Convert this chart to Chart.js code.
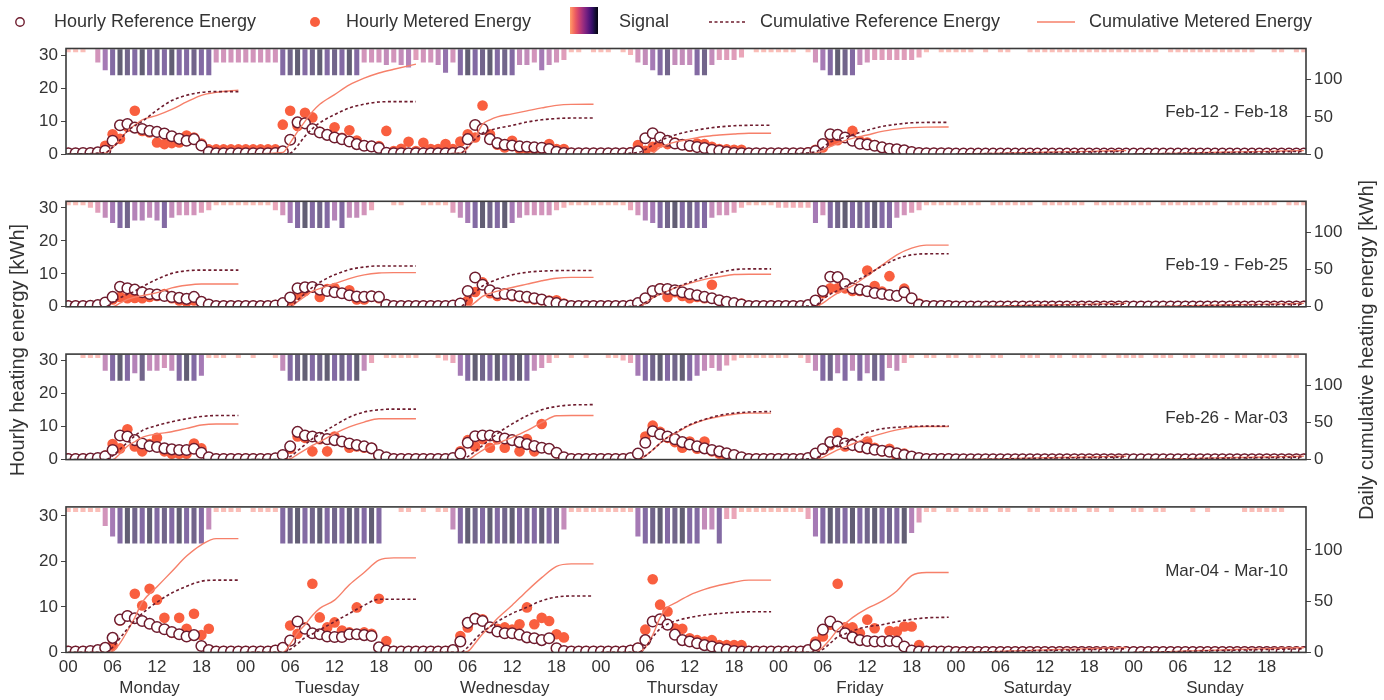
<!DOCTYPE html>
<html lang="en">
<head>
<meta charset="UTF-8">
<title>Hourly and daily cumulative heating energy</title>
<script src="https://cdn.jsdelivr.net/npm/chart.js"></script>
<style>
  body { margin: 0; background: #fff; }
  #wrap { position: relative; width: 1384px; height: 700px; }
  #wrap canvas { position: absolute; left: 0; top: 0; }
</style>
</head>
<body>
<div id="wrap">
  <canvas id="panel0" width="1384" height="700"></canvas>
  <canvas id="panel1" width="1384" height="700"></canvas>
  <canvas id="panel2" width="1384" height="700"></canvas>
  <canvas id="panel3" width="1384" height="700"></canvas>
</div>
<script>
// ---- labels ----
const DAY_NAMES = ['Monday', 'Tuesday', 'Wednesday', 'Thursday', 'Friday', 'Saturday', 'Sunday'];
const HOUR_TICKS = ['00', '06', '12', '18'];
const LEFT_TICKS = [0, 10, 20, 30];
const RIGHT_TICKS = [0, 50, 100];
const PANEL_LABELS = ['Feb-12 - Feb-18', 'Feb-19 - Feb-25', 'Feb-26 - Mar-03', 'Mar-04 - Mar-10'];
const LEGEND_LABELS = ['Hourly Reference Energy', 'Hourly Metered Energy', 'Signal',
                       'Cumulative Reference Energy', 'Cumulative Metered Energy'];

// hours of the day at which the daily cumulative curves were read
const CUM_HOURS = [0, 5, 6, 7, 8, 9, 10, 12, 14, 16, 18, 20, 23];

// ---- weekend rows (same flat pattern every week) ----
const WEEKEND_REF = [0.1,0.1,0.1,0.1,0.1,0.1,0.1,0.1,0.1,0.1,0.1,0.1,0.1,0.1,0.1,0.1,0.1,0.1,0.1,0.1,0.1,0.1,0.1,0.1];
const WEEKEND_MET = [0.2,0.2,0.2,0.2,0.2,0.2,0.2,0.2,0.2,0.2,0.2,0.2,0.2,0.2,0.2,0.2,0.2,0.2,0.2,0.2,0.2,0.2,0.2,0.2];
const WEEKEND_CUM_REF = [0, 0.6, 0.8, 1.0, 1.2, 1.4, 1.6, 1.9, 2.2, 2.5, 2.8, 3.1, 3.5];
const WEEKEND_CUM_MET = [0, 0.8, 1.0, 1.3, 1.5, 1.8, 2.0, 2.4, 2.8, 3.2, 3.6, 4.0, 4.6];

// ---- week 1: Feb-12 - Feb-18 ----
const REF_W1 = [
  [0.2,0.2,0.3,0.3,0.5,1.0,4.0,8.7,9.1,8.0,7.6,7.0,6.7,6.2,5.4,4.6,4.0,4.5,2.6,0.6,0.2,0.2,0.2,0.2],
  [0.2,0.2,0.2,0.2,0.3,0.8,4.3,9.6,9.3,7.6,6.5,5.8,5.0,4.5,3.8,3.0,2.5,2.3,1.8,0.4,0.2,0.2,0.2,0.2],
  [0.2,0.2,0.2,0.2,0.3,0.6,4.5,8.8,7.6,4.5,3.3,2.8,2.6,2.3,2.2,2.0,1.9,1.5,0.7,0.3,0.2,0.2,0.2,0.2],
  [0.2,0.2,0.2,0.2,0.3,0.8,4.8,6.3,5.0,4.0,3.2,2.8,2.5,2.1,1.8,1.3,1.0,0.6,0.3,0.2,0.2,0.2,0.2,0.2],
  [0.2,0.2,0.2,0.2,0.3,0.9,3.0,6.0,5.8,5.0,4.0,3.1,2.9,2.5,2.0,1.6,1.4,1.1,0.6,0.3,0.2,0.2,0.2,0.2],
  WEEKEND_REF, WEEKEND_REF
];
const MET_W1 = [
  [0.3,0.3,0.3,0.4,0.5,2.5,6.0,4.6,8.3,13.1,7.0,6.5,3.5,3.0,3.3,3.5,5.6,5.0,3.2,1.4,1.4,1.4,1.4,1.4],
  [1.4,1.4,1.4,1.4,1.4,8.9,13.1,8.5,12.5,11.1,6.7,5.8,8.1,4.9,7.2,4.1,2.6,2.4,2.4,7.0,0.9,1.6,3.7,0.9],
  [3.4,1.5,1.5,3.0,1.5,3.8,6.0,5.0,14.7,6.0,2.8,2.0,4.0,1.5,1.5,1.5,1.5,3.0,1.5,1.5,0.3,0.3,0.3,0.3],
  [0.3,0.3,0.3,0.3,0.5,2.7,1.0,2.2,3.5,3.0,3.5,2.8,2.2,3.2,3.0,2.2,1.5,1.4,1.3,1.3,0.3,0.3,0.3,0.3],
  [0.3,0.3,0.3,0.3,0.5,1.3,2.0,3.9,4.2,5.0,7.0,3.9,3.5,2.7,2.1,1.6,1.3,1.1,0.7,0.4,0.3,0.3,0.3,0.3],
  WEEKEND_MET, WEEKEND_MET
];
const CUM_REF_W1 = [
  [0, 2, 9, 19, 31, 38, 44, 59, 72, 79, 83, 84, 84],
  [0, 0, 1, 11, 24, 34, 42, 53, 62, 67, 70, 70.5, 70.5],
  [0, 1, 10, 20, 28, 32, 34.5, 38.5, 43, 46, 47.7, 48.4, 48.5],
  [0, 2, 6, 12, 18, 22, 25.5, 30.5, 34, 36.5, 38, 38.6, 38.6],
  [0, 3, 9, 16, 19.5, 23, 26, 32, 37, 40, 42, 42.5, 42.5],
  WEEKEND_CUM_REF, WEEKEND_CUM_REF
];
const CUM_MET_W1 = [
  [0, 1, 9, 20, 31, 39, 46, 52, 60, 70, 79, 83, 86],
  [0, 2, 15, 30, 44, 57, 67, 80, 93, 102, 109, 114, 121],
  [0, 1, 8, 22, 40, 46, 50, 54, 58, 62, 65.5, 66.8, 67],
  [0, 0, 0, 1, 9, 13, 16, 20, 23.5, 25.5, 27, 28, 28],
  [0, 1, 5, 10, 14, 18, 21, 25.5, 30.5, 33.5, 35.5, 36.2, 36.3],
  WEEKEND_CUM_MET, WEEKEND_CUM_MET
];
const SIG_W1 = [
  [1,1,1,0,5,8,10,12,11,10,12,10,11,10,12,10,10,11,10,10,5,5,5,5],
  [5,5,5,5,5,10,11,12,10,11,12,10,11,10,12,10,5,5,5,6,5,6,7,4],
  [5,5,6,9,5,10,12,10,11,12,10,11,10,6,6,5,8,6,5,4,1,1,0,1],
  [1,1,0,1,2,5,6,8,10,11,6,6,6,10,11,6,4,4,4,3,0,1,1,1],
  [1,1,1,0,1,5,8,10,12,11,10,6,5,4,4,4,4,4,4,3,1,0,1,1],
  [1,1,1,0,1,0,1,1,0,0,1,1,1,1,1,1,1,1,1,1,1,1,1,1],
  [1,1,1,1,0,1,1,1,1,1,1,1,1,1,1,1,1,0,0,1,1,0,1,1]
];

// ---- week 2: Feb-19 - Feb-25 ----
const REF_W2 = [
  [0.2,0.2,0.2,0.3,0.5,1.3,3.0,6.1,5.6,5.2,4.4,3.9,3.7,3.3,3.0,2.7,2.4,3.0,1.5,0.7,0.2,0.2,0.2,0.2],
  [0.2,0.2,0.2,0.2,0.4,1.1,2.8,5.6,5.9,6.0,5.2,4.8,4.4,4.1,3.5,3.1,3.0,3.2,3.0,0.6,0.2,0.2,0.2,0.2],
  [0.2,0.2,0.2,0.2,0.4,1.0,4.8,8.9,6.7,5.0,4.1,3.9,3.6,3.2,3.0,2.6,2.2,1.5,1.1,0.6,0.2,0.2,0.2,0.2],
  [0.2,0.2,0.2,0.2,0.4,1.1,2.6,4.8,5.4,5.4,5.0,4.4,3.9,3.5,3.0,2.6,2.0,1.5,1.1,0.7,0.2,0.2,0.2,0.2],
  [0.2,0.2,0.2,0.2,0.5,1.9,4.8,9.1,9.0,6.9,5.6,5.2,4.7,4.2,3.9,3.6,3.3,4.4,2.6,0.6,0.2,0.2,0.2,0.2],
  WEEKEND_REF, WEEKEND_REF
];
const MET_W2 = [
  [0.3,0.3,0.3,0.3,0.5,1.0,2.2,3.0,2.6,2.7,2.6,3.0,3.3,3.9,2.6,1.9,1.5,1.9,1.3,0.6,0.3,0.3,0.3,0.3],
  [0.3,0.3,0.3,0.3,0.5,0.8,1.9,3.7,4.8,5.9,3.0,5.4,5.7,4.2,5.0,2.2,2.2,3.3,2.6,0.7,0.3,0.3,0.3,0.3],
  [0.3,0.3,0.3,0.3,0.5,1.1,1.9,4.5,7.4,4.1,3.3,3.7,3.2,3.0,2.6,2.2,2.0,1.9,2.0,1.0,0.3,0.3,0.3,0.3],
  [0.3,0.3,0.3,0.3,0.5,1.0,2.4,4.4,5.6,3.0,4.4,3.3,2.6,3.0,2.6,6.7,1.9,1.5,1.0,1.0,0.3,0.3,0.3,0.3],
  [0.3,0.3,0.3,0.3,0.5,1.1,4.1,5.6,5.6,5.6,4.8,4.8,11.0,6.3,4.6,9.3,3.3,5.5,2.5,1.0,0.3,0.3,0.3,0.3],
  WEEKEND_MET, WEEKEND_MET
];
const CUM_REF_W2 = [
  [0, 0, 6, 12, 17, 21, 27, 37, 45, 48.5, 49.4, 49.4, 49.4],
  [0, 0, 0, 9, 18, 26, 33, 43, 50, 53.5, 55, 55, 55],
  [0, 0, 10, 19, 28, 33, 37, 43, 46.5, 48, 48.7, 48.8, 48.8],
  [0, 1, 6, 12, 17, 21, 25.5, 33, 40, 46, 50, 51, 51],
  [0, 2, 10, 17, 22, 27, 32.5, 43, 55, 64.5, 70, 71.3, 71.5],
  WEEKEND_CUM_REF, WEEKEND_CUM_REF
];
const CUM_MET_W2 = [
  [0, 0, 0, 5, 10, 13, 15, 19, 25.5, 29, 30.7, 30.7, 30.7],
  [0, 0, 0, 7, 14, 21, 24.5, 31, 38, 43, 45.5, 46, 46],
  [0, 0, 0, 6, 14, 18, 21, 26, 30.5, 35, 38.5, 39.6, 39.6],
  [0, 0, 5, 12, 17, 21, 25.5, 31.5, 37, 40.5, 43.5, 43.8, 43.8],
  [0, 0, 5, 12, 18.5, 23.5, 28.5, 42, 56, 70, 79, 83, 83],
  WEEKEND_CUM_MET, WEEKEND_CUM_MET
];
const SIG_W2 = [
  [1,1,1,2,4,6,8,10,11,7,7,6,7,10,6,5,5,5,4,3,1,1,1,1],
  [1,1,1,1,3,5,8,10,12,10,11,10,7,10,6,6,5,3,0,0,1,1,0,0],
  [1,1,1,1,4,6,8,10,12,11,10,12,8,6,5,5,5,5,3,2,1,1,1,1],
  [1,1,1,1,3,5,7,8,10,11,12,10,11,10,10,6,5,5,4,2,1,1,1,1],
  [2,2,2,2,2,8,5,10,11,12,10,11,10,12,10,10,6,5,4,3,1,1,1,1],
  [1,1,1,1,0,1,1,1,1,1,1,0,1,1,1,1,1,1,0,1,1,1,1,1],
  [1,1,1,0,1,1,1,1,1,1,1,1,0,1,1,1,1,1,1,1,0,1,1,1]
];

// ---- week 3: Feb-26 - Mar-03 ----
const REF_W3 = [
  [0.2,0.2,0.2,0.3,0.5,1.0,2.9,7.3,7.0,5.9,4.9,4.1,3.8,3.4,3.1,2.9,2.9,3.3,2.1,0.7,0.2,0.2,0.2,0.2],
  [0.2,0.2,0.2,0.2,0.4,1.4,4.0,8.4,7.3,7.0,6.6,6.2,5.9,5.5,4.9,4.4,4.0,3.4,1.4,0.7,0.2,0.2,0.2,0.2],
  [0.2,0.2,0.2,0.2,0.5,1.8,5.1,7.1,7.3,7.3,7.0,6.4,5.9,5.3,4.7,4.1,3.6,3.3,2.1,0.7,0.2,0.2,0.2,0.2],
  [0.2,0.2,0.2,0.2,0.5,1.8,5.1,8.6,7.7,7.0,6.2,5.3,4.6,4.0,3.4,2.9,2.5,1.9,1.4,0.7,0.2,0.2,0.2,0.2],
  [0.2,0.2,0.2,0.2,0.5,1.8,3.2,5.3,5.5,4.9,4.4,3.9,3.4,3.0,2.7,2.4,1.9,1.4,0.9,0.5,0.2,0.2,0.2,0.2],
  WEEKEND_REF, WEEKEND_REF
];
const MET_W3 = [
  [0.3,0.3,0.3,0.3,0.5,1.2,4.7,3.4,9.2,4.0,2.5,4.7,6.6,2.5,1.8,1.8,1.8,4.9,3.4,0.7,0.3,0.3,0.3,0.3],
  [0.3,0.3,0.3,0.3,0.5,0.9,3.3,7.0,6.6,2.5,6.2,2.5,7.0,5.5,3.6,4.0,3.6,3.6,0.7,0.3,0.3,0.3,0.3,0.3],
  [0.3,0.3,0.3,0.3,0.5,2.5,5.9,4.0,6.2,3.6,6.2,3.6,6.0,2.5,6.2,2.5,10.8,3.3,1.9,0.4,0.3,0.3,0.3,0.3],
  [0.3,0.3,0.3,0.3,0.5,1.8,7.0,10.3,8.4,6.6,5.3,3.6,5.5,3.3,5.5,2.5,1.8,0.9,1.0,0.4,0.3,0.3,0.3,0.3],
  [0.3,0.3,0.3,0.3,0.5,1.4,3.0,4.4,8.1,4.0,4.7,3.6,5.5,3.6,2.5,3.3,0.7,1.8,0.9,0.4,0.3,0.3,0.3,0.3],
  WEEKEND_MET, WEEKEND_MET
];
const CUM_REF_W3 = [
  [0, 0, 5, 14, 23, 32, 39, 46, 51, 55, 58, 59.3, 59.3],
  [0, 0, 4, 12, 20, 28, 34, 46, 57, 64, 67, 68, 68],
  [0, 0, 4, 11, 19, 27, 35, 48, 59, 67, 71.5, 73.5, 74],
  [0, 0, 5, 13, 22, 30, 36, 47, 54, 59.5, 62.5, 64, 64.7],
  [0, 2, 8, 15, 19.5, 24, 28, 36.5, 41.5, 43.5, 44.7, 45, 45],
  WEEKEND_CUM_REF, WEEKEND_CUM_REF
];
const CUM_MET_W3 = [
  [0, 0, 0, 8, 18, 24, 30, 34.5, 37.5, 42, 46.5, 48, 48],
  [0, 0, 1, 7, 13, 19, 24, 35, 44, 50.5, 55, 55, 55],
  [0, 0, 0, 6, 12.5, 18, 22, 30, 39, 50, 59, 59.3, 59.3],
  [0, 0, 5, 13, 22, 30, 35, 46, 53.5, 58, 61, 62.6, 62.6],
  [0, 0, 3, 8, 13, 17, 21, 29, 35, 40, 43.5, 44.5, 44.5],
  WEEKEND_CUM_MET, WEEKEND_CUM_MET
];
const SIG_W3 = [
  [0,0,1,1,1,6,10,12,10,7,11,6,6,5,6,10,12,10,8,1,1,1,0,1],
  [0,1,0,0,1,6,10,11,12,10,11,12,10,11,10,12,6,3,0,1,1,1,1,1],
  [0,0,1,2,3,8,10,12,11,10,12,10,11,12,10,6,5,3,1,0,1,0,1,0],
  [0,1,1,2,3,8,10,11,12,10,11,12,10,8,6,5,6,4,2,1,1,1,1,1],
  [1,1,0,1,3,6,10,11,7,10,6,10,7,11,10,5,6,3,1,0,1,1,0,1],
  [1,0,1,1,0,1,1,0,0,1,1,1,0,1,1,0,1,1,1,0,1,0,1,1],
  [1,1,0,1,1,1,0,1,1,0,1,1,1,0,1,1,0,1,1,1,0,1,1,0]
];

// ---- week 4: Mar-04 - Mar-10 ----
const REF_W4 = [
  [0.2,0.2,0.2,0.3,0.5,1.0,3.2,7.2,8.0,7.5,6.9,6.3,5.6,5.1,4.5,4.0,3.5,3.8,1.4,0.5,0.2,0.2,0.2,0.2],
  [0.2,0.2,0.2,0.2,0.4,1.0,2.6,6.8,5.2,4.2,4.0,3.5,3.4,3.4,4.0,4.0,3.8,3.6,1.1,0.4,0.2,0.2,0.2,0.2],
  [0.2,0.2,0.2,0.2,0.5,2.4,6.5,7.4,6.9,5.5,4.6,4.2,4.2,3.9,3.3,3.1,2.7,3.1,0.9,0.3,0.2,0.2,0.2,0.2],
  [0.2,0.2,0.2,0.2,0.4,0.9,2.7,6.8,7.3,6.1,3.9,2.7,2.4,2.0,1.6,1.3,0.9,0.6,0.3,0.2,0.2,0.2,0.2,0.2],
  [0.2,0.2,0.2,0.2,0.5,1.6,5.0,6.8,5.7,4.2,3.3,2.7,2.5,2.4,2.4,2.5,2.4,1.3,0.4,0.2,0.2,0.2,0.2,0.2],
  WEEKEND_REF, WEEKEND_REF
];
const MET_W4 = [
  [0.3,0.3,0.3,0.3,0.5,1.0,1.5,7.0,8.1,12.9,10.3,14.0,11.6,7.6,4.3,7.6,5.2,8.5,3.8,5.2,0.3,0.3,0.3,0.3],
  [0.3,0.3,0.3,0.3,0.5,1.0,5.9,4.1,5.5,15.1,7.7,5.5,6.6,4.8,4.4,9.9,4.4,4.1,11.8,2.5,0.3,0.3,0.3,0.3],
  [0.3,0.3,0.3,0.3,0.5,3.6,5.5,7.6,7.3,5.5,5.2,5.5,5.0,6.2,9.9,6.2,7.6,6.9,4.0,3.3,0.3,0.3,0.3,0.3],
  [0.3,0.3,0.3,0.3,0.5,1.0,5.0,16.1,10.5,9.0,5.3,5.2,3.1,2.7,2.4,2.7,1.6,1.6,1.6,1.6,0.3,0.3,0.3,0.3],
  [0.3,0.3,0.3,0.3,0.5,2.4,3.5,6.1,15.1,5.5,5.5,4.2,7.2,5.3,2.4,4.7,4.6,5.7,5.7,1.6,0.3,0.3,0.3,0.3],
  WEEKEND_MET, WEEKEND_MET
];
const CUM_REF_W4 = [
  [0, 0, 5, 14, 23, 31, 38, 49, 58, 64.5, 69.5, 70.5, 70.5],
  [0, 0, 3, 8.5, 14.5, 18, 22, 30, 38, 46, 51.8, 51.8, 51.8],
  [0, 0, 5, 13, 20, 25, 30, 38, 44, 50.5, 54, 55, 55],
  [0, 0, 5, 15, 23, 27.5, 30.5, 34, 36.5, 38, 39, 39.6, 39.6],
  [0, 0, 3, 9, 15, 18, 21, 25, 27, 30, 32.3, 33.7, 34.3],
  WEEKEND_CUM_REF, WEEKEND_CUM_REF
];
const CUM_MET_W4 = [
  [0, 0, 1, 9, 21, 34, 49, 64, 79, 94, 105, 111, 111],
  [0, 0, 8, 19, 27, 36, 43, 51, 66, 78, 90, 92.3, 92.3],
  [0, 0, 1, 9, 18, 25, 33, 46, 60, 73, 84, 86.4, 86.4],
  [0, 0, 5, 17, 34, 44, 48, 56, 61.5, 65.5, 68.5, 70.5, 70.5],
  [0, 0, 5, 13, 22, 28, 34, 43, 50, 60, 75, 78, 78],
  WEEKEND_CUM_MET, WEEKEND_CUM_MET
];
const SIG_W4 = [
  [1,1,1,1,1,5,8,10,12,11,10,12,10,11,10,12,10,11,10,6,1,1,1,1],
  [0,1,1,1,1,10,11,12,10,11,12,10,11,10,12,11,10,12,10,0,0,1,1,0],
  [1,0,1,1,6,10,12,11,10,12,10,11,12,10,11,10,12,10,11,6,1,1,1,1],
  [1,1,1,1,1,8,10,11,12,10,11,12,10,10,6,6,10,3,3,1,1,1,1,1],
  [1,1,1,1,3,8,10,12,11,10,12,10,11,12,10,11,10,12,7,4,1,1,0,1],
  [1,0,1,1,1,0,1,1,0,0,1,1,0,1,1,1,1,0,1,1,0,1,0,0],
  [1,1,0,1,1,0,0,0,1,0,1,0,0,0,0,1,1,1,1,1,1,0,0,0]
];

const WEEKS = [
  { ref: REF_W1, met: MET_W1, cumRef: CUM_REF_W1, cumMet: CUM_MET_W1, sig: SIG_W1 },
  { ref: REF_W2, met: MET_W2, cumRef: CUM_REF_W2, cumMet: CUM_MET_W2, sig: SIG_W2 },
  { ref: REF_W3, met: MET_W3, cumRef: CUM_REF_W3, cumMet: CUM_MET_W3, sig: SIG_W3 },
  { ref: REF_W4, met: MET_W4, cumRef: CUM_REF_W4, cumMet: CUM_MET_W4, sig: SIG_W4 }
];

// ---- layout / style ----
const FONT = '"Liberation Sans", Arial, sans-serif';
const TEXT = '#333333';
const REF_COLOR = '#6e1c2e';
const MET_COLOR = '#f95f3f';
const CUM_MET_COLOR = '#f6806a';
const PANEL_TOP = [48.5, 201.3, 354.1, 506.9];
const PANEL_H = 145.5;
const Y_MAX = 32, Y2_MAX = 142;
const SIG_TOP = 31.7, SIG_DEPTH = 7.7;

// magma colormap stops, used for the signal bars
const MAGMA = ['#000004', '#140e36', '#3b0f70', '#641a80', '#8c2981', '#b73779',
               '#de4968', '#f7705c', '#fe9f6d', '#fecf92', '#fcfdbf'];
function hexRgb(h) { return [1, 3, 5].map(i => parseInt(h.substr(i, 2), 16)); }
function magma(p, alpha) {
  const f = Math.max(0, Math.min(1, p)) * 10;
  const i = Math.min(9, Math.floor(f));
  const a = hexRgb(MAGMA[i]), b = hexRgb(MAGMA[i + 1]), t = f - i;
  const c = a.map((v, k) => Math.round(v + (b[k] - v) * t));
  return `rgba(${c[0]},${c[1]},${c[2]},${alpha})`;
}
function signalColor(v) {
  return magma(0.74 - 0.66 * Math.min(v, 12) / 12, 0.42 + 0.02 * v);
}

function hourly(days) {
  const pts = [];
  days.forEach((day, d) => day.forEach((v, h) => pts.push({ x: d * 24 + h, y: v })));
  return pts;
}
function cumulative(days) {
  const pts = [];
  days.forEach((day, d) => {
    day.forEach((v, i) => pts.push({ x: d * 24 + CUM_HOURS[i], y: v }));
    pts.push({ x: d * 24 + 23.5, y: null });
  });
  return pts;
}
function signalBars(days) {
  const pts = [];
  days.forEach((day, d) => day.forEach((v, h) => {
    if (v > 0) pts.push({ x: d * 24 + h, y: [SIG_TOP - SIG_DEPTH * Math.min(v, 10) / 10, SIG_TOP], v: v });
  }));
  return pts;
}

const framePlugin = {
  id: 'frame',
  afterDatasetsDraw(chart) {
    const a = chart.chartArea, ctx = chart.ctx;
    ctx.save();
    ctx.strokeStyle = '#3a3a3a';
    ctx.lineWidth = 1.6;
    ctx.strokeRect(a.left, a.top, a.right - a.left, a.bottom - a.top);
    ctx.restore();
  }
};

const panelLabelPlugin = {
  id: 'panelLabel',
  afterDraw(chart, args, opts) {
    const ctx = chart.ctx, a = chart.chartArea;
    ctx.save();
    ctx.font = '17px ' + FONT;
    ctx.fillStyle = TEXT;
    ctx.textAlign = 'right';
    ctx.textBaseline = 'middle';
    ctx.fillText(opts.text, a.right - 18, a.top + 64);
    ctx.restore();
  }
};

const legendPlugin = {
  id: 'topLegend',
  afterDraw(chart) {
    const ctx = chart.ctx, y = 22;
    ctx.save();
    ctx.font = '18px ' + FONT;
    ctx.textBaseline = 'middle';
    // open circle
    ctx.beginPath(); ctx.arc(20, y, 4.2, 0, Math.PI * 2);
    ctx.fillStyle = '#fff'; ctx.fill();
    ctx.strokeStyle = REF_COLOR; ctx.lineWidth = 1.4; ctx.stroke();
    // filled circle
    ctx.beginPath(); ctx.arc(315, y, 5, 0, Math.PI * 2);
    ctx.fillStyle = MET_COLOR; ctx.fill();
    // colormap swatch
    const g = ctx.createLinearGradient(570, 0, 598, 0);
    for (let i = 0; i <= 10; i++) g.addColorStop(i / 10, magma(0.8 - 0.78 * i / 10, 1));
    ctx.fillStyle = g; ctx.fillRect(570, 7, 28, 27);
    // dashed line
    ctx.strokeStyle = REF_COLOR; ctx.lineWidth = 1.6; ctx.setLineDash([3, 2.5]);
    ctx.beginPath(); ctx.moveTo(709, y); ctx.lineTo(745, y); ctx.stroke();
    // solid line
    ctx.setLineDash([]); ctx.strokeStyle = CUM_MET_COLOR; ctx.lineWidth = 1.5;
    ctx.beginPath(); ctx.moveTo(1037, y); ctx.lineTo(1075, y); ctx.stroke();
    ctx.fillStyle = TEXT;
    [54, 346, 619, 760, 1089].forEach((x, i) => ctx.fillText(LEGEND_LABELS[i], x, y));
    ctx.restore();
  }
};

const outerTextPlugin = {
  id: 'outerText',
  afterDraw(chart) {
    const ctx = chart.ctx, xs = chart.scales.x;
    ctx.save();
    ctx.fillStyle = TEXT;
    ctx.textAlign = 'center';
    ctx.textBaseline = 'middle';
    ctx.font = '17px ' + FONT;
    DAY_NAMES.forEach((name, d) => ctx.fillText(name, xs.getPixelForValue(d * 24 + 11), 688));
    ctx.font = '20px ' + FONT;
    ctx.translate(18, 350); ctx.rotate(-Math.PI / 2);
    ctx.fillText('Hourly heating energy [kWh]', 0, 0);
    ctx.setTransform(1, 0, 0, 1, 0, 0);
    ctx.translate(1367, 350); ctx.rotate(-Math.PI / 2);
    ctx.fillText('Daily cumulative heating energy [kWh]', 0, 0);
    ctx.restore();
  }
};

function makePanel(k) {
  const w = WEEKS[k];
  const last = k === WEEKS.length - 1;
  const xHeight = 40;
  const bottom = PANEL_TOP[k] + PANEL_H;
  const plugins = [framePlugin, panelLabelPlugin];
  if (k === 0) plugins.push(legendPlugin);
  if (last) plugins.push(outerTextPlugin);

  new Chart(document.getElementById('panel' + k), {
    type: 'scatter',
    data: {
      datasets: [
        {
          type: 'line', label: 'Cumulative Reference Energy', yAxisID: 'y2',
          data: cumulative(w.cumRef), borderColor: REF_COLOR, borderWidth: 1.6,
          borderDash: [3, 2.5], pointRadius: 0, spanGaps: false,
          cubicInterpolationMode: 'monotone', order: 1
        },
        {
          type: 'line', label: 'Cumulative Metered Energy', yAxisID: 'y2',
          data: cumulative(w.cumMet), borderColor: CUM_MET_COLOR, borderWidth: 1.4,
          pointRadius: 0, spanGaps: false, cubicInterpolationMode: 'monotone', order: 2
        },
        {
          label: 'Hourly Reference Energy', yAxisID: 'y', data: hourly(w.ref),
          pointRadius: 5.3, pointBorderWidth: 1.5, borderColor: REF_COLOR,
          backgroundColor: '#ffffff', order: 3
        },
        {
          label: 'Hourly Metered Energy', yAxisID: 'y', data: hourly(w.met),
          pointRadius: 5.3, pointBorderWidth: 0, borderColor: MET_COLOR,
          backgroundColor: MET_COLOR, order: 4
        },
        {
          type: 'bar', label: 'Signal', yAxisID: 'y', data: signalBars(w.sig),
          backgroundColor: c => signalColor(c.raw ? c.raw.v : 0),
          borderWidth: 0, barThickness: 4.4, order: 5
        }
      ]
    },
    options: {
      responsive: false,
      animation: false,
      events: [],
      layout: { padding: { left: 0, right: 0, top: PANEL_TOP[k], bottom: 700 - bottom - (last ? xHeight : 0) } },
      plugins: {
        legend: { display: false },
        tooltip: { enabled: false },
        panelLabel: { text: PANEL_LABELS[k] }
      },
      scales: {
        x: {
          type: 'linear', min: -0.3, max: 167.3, offset: false,
          display: last,
          grid: { display: false, drawTicks: false }, border: { display: false },
          afterBuildTicks: s => { s.ticks = DAY_NAMES.flatMap((_, d) => HOUR_TICKS.map((_, i) => ({ value: d * 24 + i * 6 }))); },
          afterFit: s => { s.height = xHeight; },
          ticks: {
            autoSkip: false, maxRotation: 0, padding: 5, color: TEXT,
            font: { family: FONT, size: 17 },
            callback: v => HOUR_TICKS[Math.round(v / 6) % 4]
          }
        },
        y: {
          position: 'left', min: 0, max: Y_MAX,
          afterBuildTicks: s => { s.ticks = LEFT_TICKS.map(v => ({ value: v })); },
          afterFit: s => { s.width = 66; },
          grid: { drawOnChartArea: false, drawTicks: true, tickLength: 5, color: '#444' },
          border: { display: false },
          ticks: { color: TEXT, padding: 3, font: { family: FONT, size: 17 } }
        },
        y2: {
          position: 'right', min: 0, max: Y2_MAX,
          afterBuildTicks: s => { s.ticks = RIGHT_TICKS.map(v => ({ value: v })); },
          afterFit: s => { s.width = 78; },
          grid: { drawOnChartArea: false, drawTicks: true, tickLength: 5, color: '#444' },
          border: { display: false },
          ticks: { color: TEXT, padding: 3, font: { family: FONT, size: 17 } }
        }
      }
    },
    plugins: plugins
  });
}

WEEKS.forEach((_, k) => makePanel(k));
</script>
</body>
</html>
